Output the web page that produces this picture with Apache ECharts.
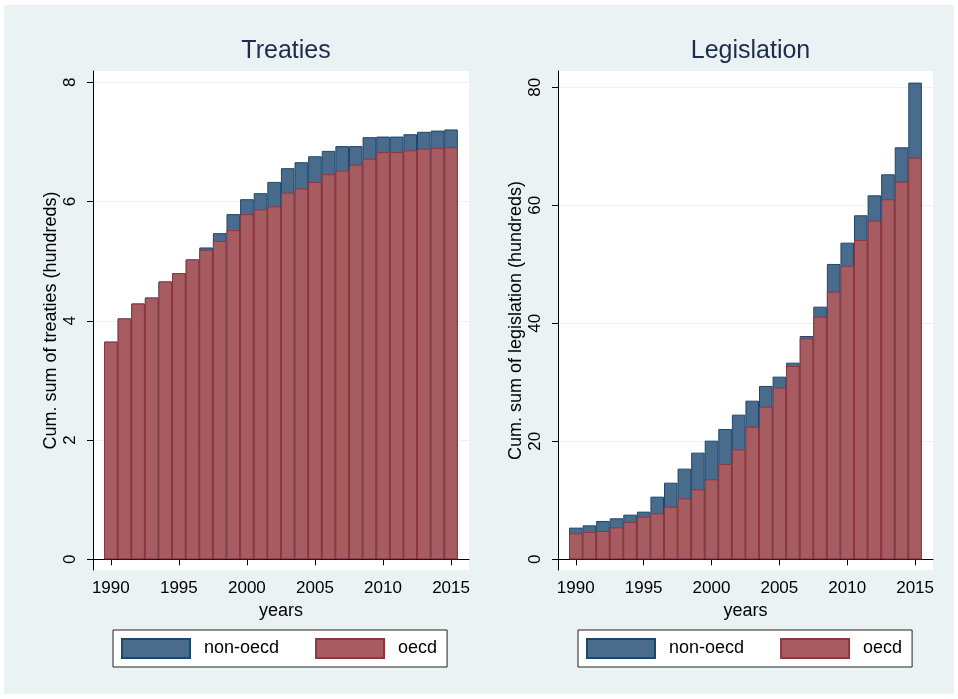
<!DOCTYPE html>
<html>
<head>
<meta charset="utf-8">
<script src="https://cdn.jsdelivr.net/npm/echarts@6/dist/echarts.min.js"></script>
<style>
  html, body { margin: 0; padding: 0; background: #ffffff; }
  #chart { width: 958px; height: 699px; }
</style>
</head>
<body>
<div id="chart"></div>
<script>
// years on the x axis
var years = [1990, 1991, 1992, 1993, 1994, 1995, 1996, 1997, 1998, 1999, 2000, 2001, 2002,
  2003, 2004, 2005, 2006, 2007, 2008, 2009, 2010, 2011, 2012, 2013, 2014, 2015];
var yearTicks = [1990, 1995, 2000, 2005, 2010, 2015];

// cumulative treaties (hundreds)
var treatiesOecd = [3.65, 4.04, 4.29, 4.39, 4.66, 4.80, 5.03, 5.19, 5.34, 5.52, 5.79, 5.87, 5.92,
  6.15, 6.22, 6.33, 6.46, 6.52, 6.62, 6.72, 6.83, 6.83, 6.86, 6.89, 6.90, 6.91];
var treatiesNonOecd = [0, 0, 0, 0, 0, 0, 0, 0.04, 0.13, 0.27, 0.25, 0.27, 0.41,
  0.41, 0.44, 0.43, 0.39, 0.41, 0.31, 0.36, 0.26, 0.26, 0.27, 0.28, 0.29, 0.30];
var treatiesTicks = [0, 2, 4, 6, 8];

// cumulative legislation (hundreds)
var legisOecd = [4.41, 4.63, 4.80, 5.42, 6.33, 7.23, 7.80, 8.93, 10.34, 11.86, 13.56, 16.16, 18.64,
  22.49, 25.88, 29.10, 32.77, 37.46, 41.13, 45.37, 49.77, 54.12, 57.40, 61.02, 64.01, 68.08];
var legisNonOecd = [0.96, 1.13, 1.70, 1.53, 1.24, 0.85, 2.82, 4.06, 5.03, 6.22, 6.55, 5.93, 5.88,
  4.40, 3.50, 1.86, 0.56, 0.39, 1.69, 4.69, 3.90, 4.19, 4.29, 4.23, 5.82, 12.71];
var legisTicks = [0, 20, 40, 60, 80];

var bg = '#eaf2f3';
var font = 'Liberation Sans, Arial, Helvetica, sans-serif';
var redFill = '#a65c61', redLine = '#90353b';
var blueFill = '#4a6c8c', blueLine = '#1a476f';

var panels = [
  { title: 'Treaties', left: 93, width: 376, ymin: -0.18, ymax: 8.19, ticks: treatiesTicks,
    yname: 'Cum. sum of treaties (hundreds)', oecd: treatiesOecd, non: treatiesNonOecd },
  { title: 'Legislation', left: 558, width: 375, ymin: -1.81, ymax: 82.76, ticks: legisTicks,
    yname: 'Cum. sum of legislation (hundreds)', oecd: legisOecd, non: legisNonOecd }
];
var xmin = 1988.69, xmax = 2016.32;

function pairs(vals) {
  return years.map(function (y, i) { return [y, vals[i]]; });
}
// non-oecd sits on top of oecd: its bar reaches oecd + non-oecd
function tops(a, b) {
  return a.map(function (v, i) { return +(v + b[i]).toFixed(2); });
}

var option = {
  animation: false,
  textStyle: { fontFamily: font },
  graphic: [{ type: 'rect', z: -100, shape: { x: 4, y: 5, width: 950, height: 689 },
    style: { fill: bg } }],
  title: [], grid: [], xAxis: [], yAxis: [], series: [], legend: []
};

panels.forEach(function (p, k) {
  var bw = p.width / (xmax - xmin);
  option.title.push({
    text: p.title, left: p.left + p.width / 2, top: 34, textAlign: 'center',
    textStyle: { fontSize: 25, fontWeight: 'normal', color: '#1e2d4d', fontFamily: font }
  });
  option.grid.push({
    left: p.left, top: 71, width: p.width, height: 499,
    show: true, backgroundColor: '#ffffff', borderWidth: 0
  });
  option.xAxis.push({
    type: 'value', gridIndex: k, min: xmin, max: xmax,
    name: 'years', nameLocation: 'middle', nameGap: 29,
    nameTextStyle: { fontSize: 18, color: '#000' },
    axisLine: { show: true, lineStyle: { color: '#000', width: 1 } },
    axisTick: { show: true, length: 6, customValues: yearTicks, lineStyle: { color: '#000' } },
    axisLabel: { customValues: yearTicks, fontSize: 17, color: '#000', margin: 10,
      formatter: function (v) { return String(v); } },
    splitLine: { show: false }
  });
  option.yAxis.push({
    type: 'value', gridIndex: k, min: p.ymin, max: p.ymax,
    name: p.yname, nameLocation: 'middle', nameGap: 33,
    nameTextStyle: { fontSize: 18, color: '#000' },
    axisLine: { show: true, lineStyle: { color: '#000', width: 1 } },
    axisTick: { show: true, length: 6, customValues: p.ticks, lineStyle: { color: '#000' } },
    axisLabel: { customValues: p.ticks, fontSize: 17, color: '#000', rotate: 90, margin: 14 },
    splitLine: { show: true, lineStyle: { color: bg, width: 1 } }
  });
  option.series.push({
    name: 'non-oecd', type: 'bar', xAxisIndex: k, yAxisIndex: k,
    barWidth: bw, barGap: '-100%', z: 2, data: pairs(tops(p.oecd, p.non)),
    itemStyle: { color: blueFill, borderColor: blueLine, borderWidth: 1 }
  });
  option.series.push({
    name: 'oecd', type: 'bar', xAxisIndex: k, yAxisIndex: k,
    barWidth: bw, barGap: '-100%', z: 3, data: pairs(p.oecd),
    itemStyle: { color: redFill, borderColor: redLine, borderWidth: 1 }
  });
  option.legend.push({
    data: ['non-oecd', 'oecd'], orient: 'horizontal',
    left: p.left + 20, top: 630,
    backgroundColor: '#ffffff', borderColor: '#222', borderWidth: 1,
    padding: [8, 10, 8, 8], itemWidth: 68, itemHeight: 19, itemGap: 36,
    icon: 'rect', selectedMode: false,
    textStyle: { fontSize: 18, color: '#000', padding: [0, 0, 0, 9] }
  });
});

var chart = echarts.init(document.getElementById('chart'), null, { renderer: 'canvas' });
chart.setOption(option);
</script>
</body>
</html>
